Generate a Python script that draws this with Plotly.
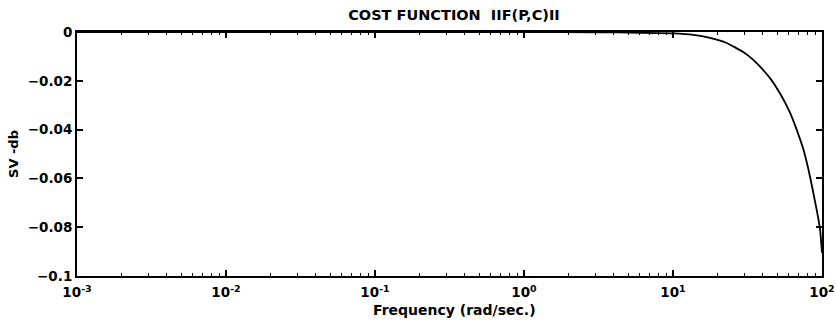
import plotly.graph_objects as go

# Frequency response of the cost function singular value
freq = [0.001, 0.01, 0.1, 1.0, 3.0, 6.0, 10.0, 13.7, 17.7, 22.9, 29.6, 34.0,
        38.4, 44.8, 52.2, 61.0, 67.6, 74.9, 83.0, 92.0, 97.0, 100.0]
sv_db = [0.0, 0.0, 0.0, 0.0, -0.0001, -0.0003, -0.0006, -0.0012, -0.0024,
         -0.0045, -0.0082, -0.0110, -0.0142, -0.0189, -0.0251, -0.0330,
         -0.0400, -0.0480, -0.0591, -0.0727, -0.0808, -0.0905]

x_tickvals = [1e-3, 1e-2, 1e-1, 1e0, 1e1, 1e2]
x_ticktext = ["10<sup>-3</sup>", "10<sup>-2</sup>", "10<sup>-1</sup>",
              "10<sup>0</sup>", "10<sup>1</sup>", "10<sup>2</sup>"]
# log-decade minor tick positions (2..9 within each decade)
x_minor = [k * 10.0 ** e for e in range(-3, 2) for k in range(2, 10)]
y_tickvals = [0, -0.02, -0.04, -0.06, -0.08, -0.1]
y_ticktext = ["0", "\u22120.02", "\u22120.04", "\u22120.06", "\u22120.08", "\u22120.1"]

FAMILY = "DejaVu Sans, Liberation Sans, sans-serif"


def txt(size):
    return dict(family=FAMILY, size=size, weight="bold", color="black")


fig = go.Figure()
fig.add_trace(go.Scatter(
    x=freq, y=sv_db, mode="lines",
    line=dict(color="black", width=1.8, shape="spline", smoothing=0.4),
    showlegend=False,
))

fig.update_layout(
    width=836, height=334,
    margin=dict(l=77, r=14, t=32, b=58),
    paper_bgcolor="white", plot_bgcolor="white",
    font=txt(13),
    title=dict(text="COST FUNCTION&nbsp;&nbsp;IIF(P,C)II", x=0.543, xanchor="center",
               y=0.972, yanchor="top", font=txt(14.5)),
    annotations=[dict(
        text="Frequency (rad/sec.)", xref="paper", yref="paper",
        x=0.507, y=-0.14, xanchor="center", yanchor="middle",
        showarrow=False, font=txt(14),
    )],
)

fig.update_xaxes(
    type="log", range=[-3, 2], automargin=False,
    tickvals=x_tickvals, ticktext=x_ticktext,
    ticks="inside", ticklen=6, tickcolor="black", tickwidth=1.5,
    minor=dict(tickvals=x_minor, ticks="inside", ticklen=3, tickcolor="black",
               tickwidth=1.2, showgrid=False),
    tickfont=txt(13.5), ticklabelstandoff=3,
    showgrid=False, zeroline=False,
    showline=True, linecolor="black", linewidth=2, mirror="ticks",
)
fig.update_yaxes(
    range=[-0.1, 0], automargin=False,
    tickvals=y_tickvals, ticktext=y_ticktext,
    ticks="inside", ticklen=6, tickcolor="black", tickwidth=1.5,
    tickfont=txt(13.5),
    showgrid=False, zeroline=False,
    showline=True, linecolor="black", linewidth=2, mirror="ticks",
    title=dict(text="SV -db", standoff=6, font=txt(13)),
)

fig.write_html("out.html")
